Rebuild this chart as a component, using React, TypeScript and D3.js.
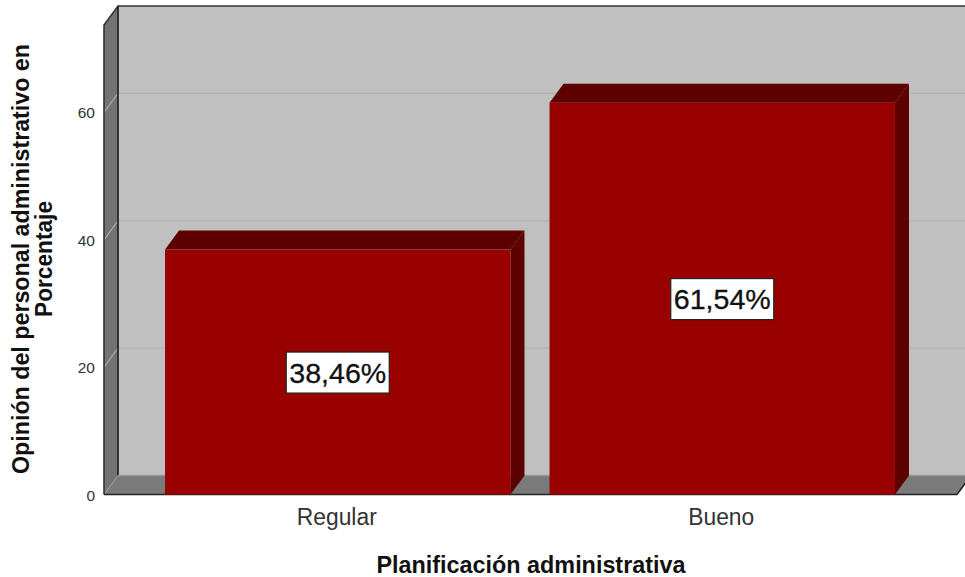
import React from "react";
import * as d3 from "d3";

const categories = ["Regular", "Bueno"];
const percentages = [38.46, 61.54];
const barLabels = ["38,46%", "61,54%"];
const yTicks = [0, 20, 40, 60];
const xTitle = "Planificación administrativa";
const yTitleLines = ["Opinión del personal administrativo en", "Porcentaje"];

const FONT = "'Liberation Sans', Arial, sans-serif";
const DX = 14;
const DY = 19;

export default function App() {
  const x = d3.scaleBand<string>().domain(categories).range([103.5, 956.5]).paddingInner(0.1016).paddingOuter(0.16);
  const y = d3.scaleLinear().domain([0, 76.8]).range([494.5, 5.5]);
  const top = 25;
  const bottom = y(0);
  const left = 104;
  const right = 957;
  const pts = (p: number[][]) => p.map((q) => q.join(",")).join(" ");

  return (
    <svg width={965} height={577} style={{ position: "absolute", left: 0, top: 0, background: "#fff" }}>
      <rect x={left + DX} y={top - DY} width={965} height={bottom - top} fill="#c0c0c0" />
      {yTicks.slice(1).map((t) => (
        <line key={t} x1={left + DX} x2={965} y1={y(t) - DY} y2={y(t) - DY} stroke="#b2b2b2" strokeWidth={1.2} />
      ))}
      <polygon points={pts([[left, top], [left + DX, top - DY], [left + DX, bottom - DY], [left, bottom]])} fill="#737373" />
      {yTicks.slice(1).map((t) => (
        <line key={t} x1={left} y1={y(t)} x2={left + DX} y2={y(t) - DY} stroke="#a8a8a8" strokeWidth={1.2} />
      ))}
      <polygon points={pts([[left, bottom], [left + DX, bottom - DY], [right + DX, bottom - DY], [right, bottom]])} fill="#7a7a7a" />
      <line x1={left} y1={bottom} x2={left + DX} y2={bottom - DY} stroke="#a8a8a8" strokeWidth={1} strokeDasharray="2 1" />
      <path
        d={`M${left},${bottom} L${left},${top} L${left + DX},${top - DY} L966,${top - DY}`}
        fill="none"
        stroke="#333"
        strokeWidth={1.6}
      />
      <line x1={left + DX} x2={left + DX} y1={top - DY} y2={bottom - DY} stroke="#1a1a1a" strokeWidth={1.6} />
      <line x1={left + DX} x2={966} y1={bottom - DY} y2={bottom - DY} stroke="#9a9a9a" strokeWidth={1.4} />
      <path d={`M${left},${bottom} L${right},${bottom} L${right + DX},${bottom - DY}`} fill="none" stroke="#222" strokeWidth={1.6} />
      {categories.map((c, i) => {
        const x0 = x(c) as number;
        const x1 = x0 + x.bandwidth();
        const yv = y(percentages[i]);
        return (
          <g key={c}>
            <polygon points={pts([[x0, yv], [x0 + DX, yv - DY], [x1 + DX, yv - DY], [x1, yv]])} fill="#5c0000" />
            <polygon points={pts([[x1, yv], [x1 + DX, yv - DY], [x1 + DX, bottom - DY], [x1, bottom]])} fill="#5c0000" />
            <rect x={x0} y={yv} width={x1 - x0} height={bottom - yv} fill="#990000" />
          </g>
        );
      })}
      {categories.map((c, i) => {
        const cx = (x(c) as number) + x.bandwidth() / 2;
        const cy = (y(percentages[i]) + bottom) / 2;
        return (
          <g key={c}>
            <rect x={cx - 51.5} y={cy - 20} width={103} height={41} fill="#fff" stroke="#222" strokeWidth={1.2} />
            <text x={cx} y={cy + 10.5} textAnchor="middle" fontFamily={FONT} fontSize={28} textLength={97} lengthAdjust="spacingAndGlyphs" fill="#111" stroke="#111" strokeWidth={0.3}>
              {barLabels[i]}
            </text>
          </g>
        );
      })}
      {yTicks.map((t) => (
        <text key={t} x={95} y={y(t) + 6} textAnchor="end" fontFamily={FONT} fontSize={15.5} fill="#333">
          {t}
        </text>
      ))}
      {categories.map((c, i) => (
        <text key={c} x={(x(c) as number) + x.bandwidth() / 2 - 1} y={525} textAnchor="middle" fontFamily={FONT} fontSize={23} textLength={[80, 66][i]} lengthAdjust="spacingAndGlyphs" fill="#333">
          {c}
        </text>
      ))}
      <text x={531} y={573} textAnchor="middle" fontFamily={FONT} fontSize={23} fontWeight="bold" textLength={309} lengthAdjust="spacingAndGlyphs" fill="#111">
        {xTitle}
      </text>
      <text transform="translate(29,259) rotate(-90)" textAnchor="middle" fontFamily={FONT} fontSize={23} fontWeight="bold" textLength={430} lengthAdjust="spacingAndGlyphs" fill="#111">
        {yTitleLines[0]}
      </text>
      <text transform="translate(52,259) rotate(-90)" textAnchor="middle" fontFamily={FONT} fontSize={23} fontWeight="bold" textLength={116} lengthAdjust="spacingAndGlyphs" fill="#111">
        {yTitleLines[1]}
      </text>
    </svg>
  );
}
